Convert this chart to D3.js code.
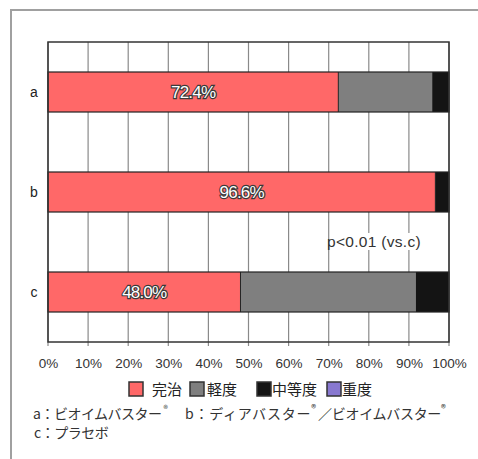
<!DOCTYPE html>
<html><head><meta charset="utf-8">
<script src="https://cdn.jsdelivr.net/npm/d3@7"></script>
<style>
body{margin:0;background:#fff;}
svg{display:block;}
text{font-family:"Liberation Sans",Arial,sans-serif;}
.jp{font-family:"Noto Sans CJK JP","Liberation Sans",sans-serif;}
</style></head>
<body>
<svg id="c" width="478" height="459"></svg>
<script>
const categories = ["a","b","c"];
const seriesNames = ["完治","軽度","中等度","重度"];
const cured    = [72.4, 96.6, 48.0];
const mild     = [23.4, 0.0, 43.7];
const moderate = [4.2, 3.4, 8.3];
const severe   = [0, 0, 0];
const tickValues = [0,10,20,30,40,50,60,70,80,90,100];
const colors = ["#ff6868","#7f7f7f","#141414","#8878d0"];
const pText = "p<0.01 (vs.c)";
const footA = "a：ビオイムバスター";
const footB = "b：ディアバスター";
const footB2 = "／ビオイムバスター";
const footC = "c：プラセボ";

const svg = d3.select("#c");
// outer frame
svg.append("path").attr("d","M11,459 L11,10 L478,10").attr("fill","none").attr("stroke","#a0a0a0").attr("stroke-width",2);

const L=48, R=449, T=42, B=342;
const x = d3.scaleLinear().domain([0,100]).range([L,R]);
const y = d3.scaleBand().domain(categories).range([T,B]).paddingInner(0.6).paddingOuter(0.3);

// grid
svg.append("g").selectAll("line").data(tickValues).join("line")
  .attr("x1",d=>x(d)).attr("x2",d=>x(d)).attr("y1",T).attr("y2",B+4)
  .attr("stroke","#8a8a8a").attr("stroke-width",1.2);

// p-value label with white background
const pg = svg.append("g");
const pt = pg.append("text").attr("x",327).attr("y",247).attr("font-size",15.5).attr("letter-spacing","0.3").attr("fill","#333").text(pText);
const bb = pt.node().getBBox();
pg.insert("rect","text").attr("x",bb.x+3).attr("y",bb.y).attr("width",bb.width-6).attr("height",bb.height).attr("fill","#fff");

// stacked data
const rows = categories.map((c,i)=>({cat:c, "完治":cured[i], "軽度":mild[i], "中等度":moderate[i], "重度":severe[i]}));
const stack = d3.stack().keys(seriesNames)(rows);
svg.append("g").selectAll("g").data(stack).join("g").attr("fill",(d,i)=>colors[i])
  .selectAll("rect").data(d=>d.filter(s=>s[1]-s[0]>0)).join("rect")
  .attr("x",d=>x(d[0])).attr("width",d=>x(d[1])-x(d[0]))
  .attr("y",d=>y(d.data.cat)).attr("height",y.bandwidth());
// bar outlines
svg.append("g").selectAll("rect").data(rows).join("rect")
  .attr("x",x(0)).attr("width",x(100)-x(0)).attr("y",d=>y(d.cat)).attr("height",y.bandwidth())
  .attr("fill","none").attr("stroke","#222").attr("stroke-width",1.2);
svg.append("g").selectAll("line").data(stack[0]).join("line")
  .attr("x1",d=>x(d[1])).attr("x2",d=>x(d[1])).attr("y1",d=>y(d.data.cat)).attr("y2",d=>y(d.data.cat)+y.bandwidth())
  .attr("stroke","#222").attr("stroke-width",1);

// value labels
svg.append("g").selectAll("text").data(stack[0]).join("text")
  .attr("x",d=>(x(d[0])+x(d[1]))/2).attr("y",d=>y(d.data.cat)+y.bandwidth()/2+6)
  .attr("text-anchor","middle").attr("font-size",17).attr("letter-spacing","-0.8")
  .attr("fill","#fff").attr("stroke","#3a3a3a").attr("stroke-width",2.4).attr("paint-order","stroke")
  .text(d=>d[1].toFixed(1)+"%");

// plot border
svg.append("rect").attr("x",L).attr("y",T).attr("width",R-L).attr("height",B-T)
  .attr("fill","none").attr("stroke","#333").attr("stroke-width",1.5);

// y labels
svg.append("g").selectAll("text").data(categories).join("text")
  .attr("x",34).attr("y",d=>y(d)+y.bandwidth()/2+5).attr("text-anchor","middle")
  .attr("font-size",14).attr("fill","#222").text(d=>d);

// x axis labels
const xa = svg.append("g").attr("transform",`translate(0,${B})`)
  .call(d3.axisBottom(x).tickValues(tickValues).tickSize(0).tickPadding(16).tickFormat(d=>d+"%"));
xa.select(".domain").remove();
xa.selectAll("text").attr("font-size",13.5).attr("fill","#333").attr("font-family","Liberation Sans, Arial, sans-serif");

// legend
const legX = [129,190,257,327];
const legTx = [23,17,15,15];
const lg = svg.append("g").selectAll("g").data(seriesNames).join("g")
  .attr("transform",(d,i)=>`translate(${legX[i]},382)`);
lg.append("rect").attr("width",14).attr("height",14).attr("fill",(d,i)=>colors[i]).attr("stroke","#333").attr("stroke-width",1.5);
lg.append("text").attr("class","jp").attr("x",(d,i)=>legTx[i]).attr("y",13).attr("font-size",15).attr("fill","#222").text(d=>d);

// footnotes
const fs = 14;
const f1 = svg.append("text").attr("class","jp").attr("y",419).attr("font-size",fs).attr("fill","#333");
f1.append("tspan").attr("x",33).attr("letter-spacing","-0.5").text(footA);
f1.append("tspan").attr("dx",2).attr("dy",-7).attr("font-size",9).text("®");
f1.append("tspan").attr("x",185).attr("dy",7).attr("letter-spacing","0.8").text(footB);
f1.append("tspan").attr("dy",-7).attr("font-size",10).text("®");
f1.append("tspan").attr("dx",2).attr("dy",7).attr("letter-spacing","-0.3").text(footB2);
f1.append("tspan").attr("dy",-7).attr("font-size",10).text("®");
svg.append("text").attr("class","jp").attr("x",34).attr("y",438).attr("font-size",fs).attr("letter-spacing","-0.5").attr("fill","#333").text(footC);
</script>
</body></html>
